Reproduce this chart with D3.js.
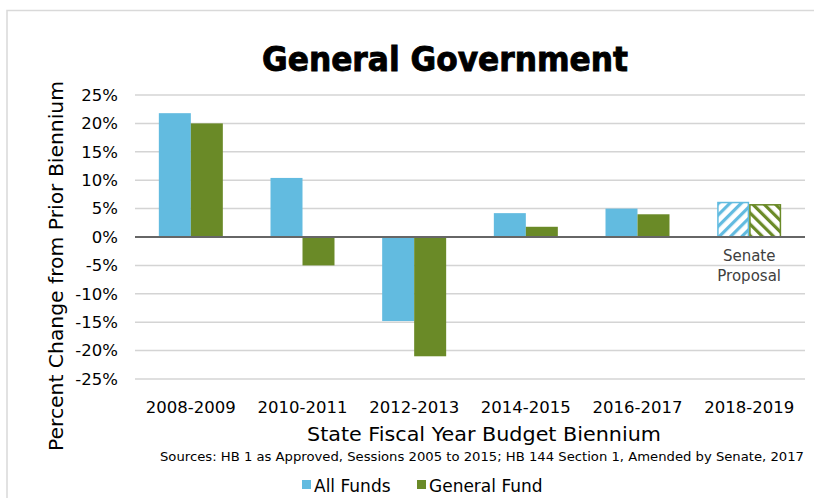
<!DOCTYPE html>
<html>
<head>
<meta charset="utf-8">
<script src="https://cdn.jsdelivr.net/npm/d3@7"></script>
<style>
  html, body { margin: 0; padding: 0; background: #fff; }
  svg { display: block; font-family: Tahoma, "DejaVu Sans", Verdana, sans-serif; }
</style>
</head>
<body>
<svg id="chart" width="814" height="498"></svg>
<script>
// Biennium categories and percent change values
const categories = ["2008-2009", "2010-2011", "2012-2013", "2014-2015", "2016-2017", "2018-2019"];
const seriesNames = ["All Funds", "General Fund"];
const allFunds = [21.8, 10.4, -14.8, 4.2, 5.0, 6.2];
const generalFund = [20.0, -5.0, -21.0, 1.8, 4.0, 5.8];
const proposalFlags = [false, false, false, false, false, true];
const yTicks = [25, 20, 15, 10, 5, 0, -5, -10, -15, -20, -25];

const colors = { "All Funds": "#62bbe0", "General Fund": "#6a8a27" };

const svg = d3.select("#chart");
const W = 814, H = 498;

// outer frame
svg.append("rect")
  .attr("x", 7).attr("y", 10.5)
  .attr("width", W + 10).attr("height", H + 10)
  .attr("fill", "none").attr("stroke", "#d9d9d9").attr("stroke-width", 1.5);

const plot = { left: 135, right: 805, top: 95, bottom: 379 };

const x = d3.scaleBand().domain(categories).range([plot.left, plot.right]).padding(0);
const xs = d3.scaleBand().domain(seriesNames).range([0, x.bandwidth()]).paddingInner(0).paddingOuter(0.745);
const y = d3.scaleLinear().domain([-25, 25]).range([plot.bottom, plot.top]);

// hatch patterns for the proposal bars
const defs = svg.append("defs");
function hatch(id, color, angle) {
  const p = defs.append("pattern")
    .attr("id", id).attr("patternUnits", "userSpaceOnUse")
    .attr("width", 8).attr("height", 8)
    .attr("patternTransform", `rotate(${angle})`);
  p.append("rect").attr("width", 8).attr("height", 8).attr("fill", "#fff");
  p.append("rect").attr("x", 0).attr("y", 0).attr("width", 3.2).attr("height", 8).attr("fill", color);
}
hatch("hatch-all", colors["All Funds"], 45);
hatch("hatch-gen", colors["General Fund"], -45);

// gridlines
svg.append("g").selectAll("line")
  .data(yTicks.filter(d => d !== 0))
  .join("line")
  .attr("x1", plot.left).attr("x2", plot.right)
  .attr("y1", d => y(d)).attr("y2", d => y(d))
  .attr("stroke", "#d4d4d4").attr("stroke-width", 1.5);

// y axis labels
const yAxis = d3.axisLeft(y).tickValues(yTicks).tickFormat(d => d + "%").tickSize(0).tickPadding(0);
const gy = svg.append("g").attr("transform", `translate(118,0)`).call(yAxis);
gy.select(".domain").remove();
gy.selectAll("text").attr("font-size", 16.5).attr("fill", "#000")
  .style("font-family", "Tahoma, 'DejaVu Sans', sans-serif");

// bars
const rows = categories.map((c, i) => ({
  cat: c,
  proposal: proposalFlags[i],
  values: [
    { key: "All Funds", v: allFunds[i] },
    { key: "General Fund", v: generalFund[i] }
  ]
}));

const groups = svg.append("g").selectAll("g")
  .data(rows).join("g")
  .attr("transform", d => `translate(${x(d.cat)},0)`);

groups.selectAll("rect")
  .data(d => d.values.map(v => ({ ...v, proposal: d.proposal })))
  .join("rect")
  .attr("x", d => xs(d.key) + (d.proposal ? 0.75 : 0))
  .attr("width", d => xs.bandwidth() - (d.proposal ? 1.5 : 0))
  .attr("y", d => y(Math.max(0, d.v)) + (d.proposal ? 0.75 : 0))
  .attr("height", d => Math.abs(y(d.v) - y(0)) - (d.proposal ? 0.75 : 0))
  .attr("fill", d => d.proposal ? (d.key === "All Funds" ? "url(#hatch-all)" : "url(#hatch-gen)") : colors[d.key])
  .attr("stroke", d => d.proposal ? colors[d.key] : "none")
  .attr("stroke-width", 1.5);

// zero line
svg.append("line")
  .attr("x1", plot.left).attr("x2", plot.right)
  .attr("y1", y(0)).attr("y2", y(0))
  .attr("stroke", "#666").attr("stroke-width", 2);

// x category labels
const xAxis = d3.axisBottom(x).tickSize(0).tickPadding(0);
const gx = svg.append("g").attr("transform", `translate(0,400)`).call(xAxis);
gx.select(".domain").remove();
gx.selectAll("text").attr("font-size", 16.5).attr("fill", "#000").attr("dy", "0.8em")
  .style("font-family", "Tahoma, 'DejaVu Sans', sans-serif");

// proposal note
const propIdx = proposalFlags.indexOf(true);
const note = svg.append("text")
  .attr("x", x(categories[propIdx]) + x.bandwidth() / 2)
  .attr("text-anchor", "middle").attr("font-size", 15).attr("fill", "#404040");
note.append("tspan").attr("x", x(categories[propIdx]) + x.bandwidth() / 2).attr("y", 261).text("Senate");
note.append("tspan").attr("x", x(categories[propIdx]) + x.bandwidth() / 2).attr("y", 281).text("Proposal");

// title
svg.append("text")
  .attr("x", 445).attr("y", 71)
  .attr("text-anchor", "middle")
  .attr("font-size", 33).attr("font-weight", "bold").attr("fill", "#000")
  .attr("stroke", "#000").attr("stroke-width", 0.9)
  .attr("textLength", 366).attr("lengthAdjust", "spacingAndGlyphs")
  .text("General Government");

// y axis title
svg.append("text")
  .attr("transform", `translate(63,266) rotate(-90)`)
  .attr("text-anchor", "middle")
  .attr("font-size", 20).attr("fill", "#000")
  .attr("textLength", 370).attr("lengthAdjust", "spacingAndGlyphs")
  .text("Percent Change from Prior Biennium");

// x axis title
svg.append("text")
  .attr("x", 484).attr("y", 441)
  .attr("text-anchor", "middle")
  .attr("font-size", 20).attr("fill", "#000")
  .attr("textLength", 354).attr("lengthAdjust", "spacingAndGlyphs")
  .text("State Fiscal Year Budget Biennium");

// source note
svg.append("text")
  .attr("x", 804).attr("y", 461)
  .attr("text-anchor", "end")
  .attr("font-size", 13).attr("fill", "#000")
  .attr("textLength", 644).attr("lengthAdjust", "spacingAndGlyphs")
  .text("Sources: HB 1 as Approved, Sessions 2005 to 2015; HB 144 Section 1, Amended by Senate, 2017");

// legend
const legend = svg.append("g").attr("transform", "translate(302,487)");
const legendX = [0, 115];
seriesNames.forEach((s, i) => {
  const g = legend.append("g").attr("transform", `translate(${legendX[i]},0)`);
  g.append("rect").attr("x", 0).attr("y", -7).attr("width", 9).attr("height", 9).attr("fill", colors[s]);
  g.append("text").attr("x", 12).attr("y", 0).attr("dy", "0.32em")
    .attr("font-size", 17).attr("fill", "#000").text(s);
});
</script>
</body>
</html>
